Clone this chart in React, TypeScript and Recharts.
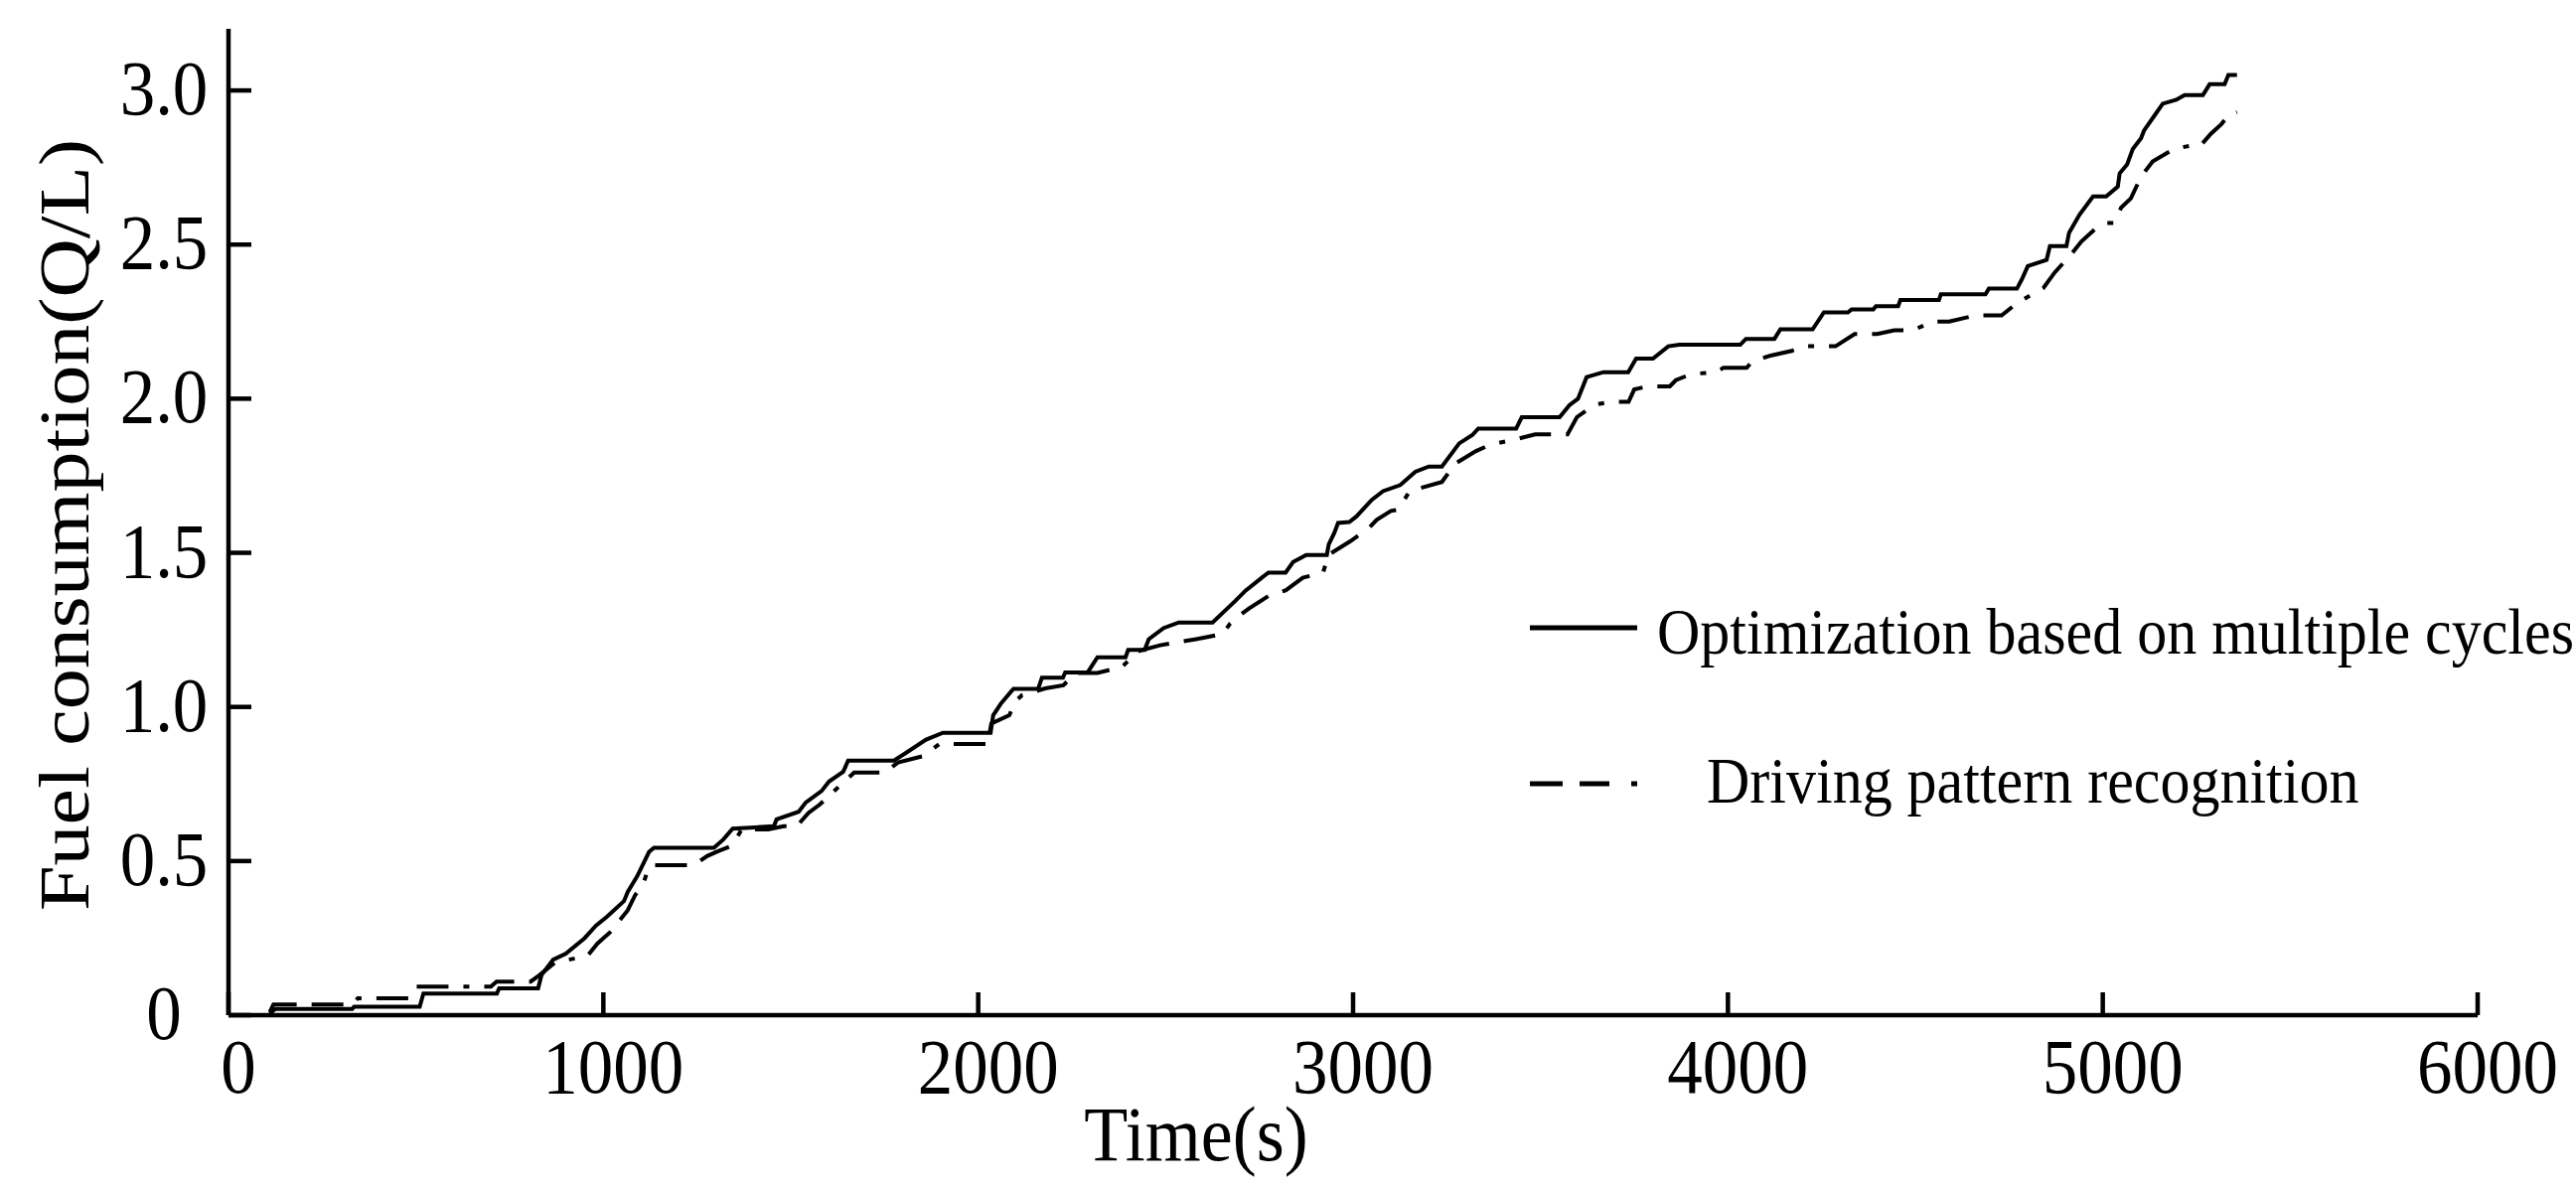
import React from "react";
import { LineChart, Line, XAxis, YAxis, Legend } from "recharts";

const FONT = "'Liberation Serif', 'Times New Roman', serif";
const STRETCH = 1.1;

// x tick values (s) and y tick values (Q/L)
const timeTicks = [0, 1000, 2000, 3000, 4000, 5000, 6000];
const fuelTicks = [0, 0.5, 1.0, 1.5, 2.0, 2.5, 3.0];

// Series 1: Optimization based on multiple cycles (solid)
const solidTime = [
  110, 125, 330, 335, 510, 520, 716, 722, 826, 835, 866, 900, 950, 980, 1010, 1055, 1065, 1090, 1110, 1122,
  1135, 1295, 1320, 1345, 1455, 1462, 1521, 1540, 1582, 1602, 1640, 1653, 1775, 1805, 1861, 1906, 2033, 2040,
  2060, 2094, 2160, 2170, 2226, 2232, 2292, 2318, 2393, 2400, 2444, 2455, 2495, 2535, 2625, 2686, 2713, 2774,
  2820, 2840, 2875, 2930, 2935, 2950, 2960, 2990, 3009, 3050, 3080, 3126, 3166, 3202, 3237, 3283, 3318, 3334,
  3435, 3450, 3551, 3577, 3600, 3623, 3668, 3734, 3755, 3800, 3841, 3871, 4033, 4048, 4124, 4140, 4226, 4256,
  4320, 4330, 4388, 4395, 4454, 4460, 4563, 4568, 4687, 4696, 4771, 4784, 4800, 4850, 4859, 4903, 4910, 4938,
  4974, 5009, 5040, 5045, 5065, 5080, 5102, 5110, 5133, 5160, 5196, 5218, 5267, 5285, 5325, 5335, 5358,
];
const solidFuel = [
  0.005, 0.02, 0.02, 0.027, 0.027, 0.07, 0.07, 0.087, 0.087, 0.13, 0.18, 0.2, 0.25, 0.29, 0.32, 0.37, 0.4, 0.45,
  0.5, 0.53, 0.543, 0.543, 0.57, 0.605, 0.613, 0.635, 0.66, 0.69, 0.727, 0.758, 0.79, 0.826, 0.826, 0.849,
  0.894, 0.916, 0.916, 0.973, 1.01, 1.059, 1.059, 1.095, 1.095, 1.112, 1.112, 1.161, 1.161, 1.185, 1.185, 1.22,
  1.256, 1.274, 1.274, 1.344, 1.377, 1.436, 1.436, 1.47, 1.493, 1.493, 1.527, 1.565, 1.597, 1.6, 1.618, 1.672,
  1.7, 1.72, 1.763, 1.78, 1.78, 1.855, 1.882, 1.903, 1.903, 1.94, 1.94, 1.979, 2.0, 2.07, 2.086, 2.086, 2.13,
  2.13, 2.17, 2.175, 2.175, 2.194, 2.194, 2.225, 2.225, 2.28, 2.28, 2.29, 2.29, 2.3, 2.3, 2.32, 2.32, 2.339,
  2.339, 2.357, 2.357, 2.387, 2.43, 2.45, 2.495, 2.495, 2.538, 2.597, 2.656, 2.656, 2.688, 2.731, 2.76, 2.81,
  2.845, 2.87, 2.91, 2.957, 2.97, 2.985, 2.985, 3.02, 3.02, 3.05, 3.05,
];

// Series 2: Driving pattern recognition (dashed)
const dashedTime = [
  110, 120, 330, 345, 480, 500, 700, 715, 806, 830, 870, 958, 984, 1019, 1065, 1085, 1105, 1121, 1135, 1242,
  1278, 1308, 1344, 1369, 1440, 1481, 1516, 1547, 1577, 1633, 1669, 1750, 1786, 1852, 1897, 2025, 2035, 2083,
  2100, 2117, 2179, 2227, 2260, 2318, 2384, 2424, 2485, 2581, 2651, 2672, 2690, 2723, 2774, 2820, 2866, 2920,
  2935, 2992, 3042, 3063, 3101, 3120, 3151, 3237, 3273, 3328, 3364, 3440, 3486, 3572, 3597, 3643, 3688, 3735,
  3750, 3785, 3845, 3861, 3902, 3968, 3988, 4050, 4064, 4114, 4170, 4205, 4287, 4338, 4398, 4444, 4493, 4546,
  4590, 4660, 4730, 4771, 4842, 4872, 4917, 4943, 4979, 5005, 5030, 5049, 5075, 5102, 5133, 5190, 5230, 5260,
  5289, 5316, 5335, 5358,
];
const dashedFuel = [
  0.01, 0.035, 0.035, 0.055, 0.055, 0.093, 0.093, 0.109, 0.109, 0.13, 0.17, 0.193, 0.232, 0.27, 0.34, 0.39,
  0.42, 0.48, 0.487, 0.487, 0.517, 0.533, 0.55, 0.603, 0.603, 0.613, 0.613, 0.656, 0.683, 0.747, 0.787, 0.787,
  0.82, 0.84, 0.88, 0.88, 0.946, 0.973, 1.02, 1.038, 1.06, 1.07, 1.11, 1.11, 1.13, 1.18, 1.2, 1.22, 1.236,
  1.27, 1.29, 1.32, 1.36, 1.378, 1.419, 1.436, 1.494, 1.537, 1.58, 1.607, 1.636, 1.64, 1.7, 1.73, 1.79, 1.83,
  1.85, 1.87, 1.884, 1.884, 1.94, 1.98, 1.99, 1.99, 2.03, 2.04, 2.04, 2.06, 2.08, 2.086, 2.1, 2.1, 2.12, 2.14,
  2.155, 2.17, 2.17, 2.21, 2.21, 2.222, 2.222, 2.25, 2.25, 2.27, 2.27, 2.31, 2.36, 2.41, 2.47, 2.51, 2.55,
  2.57, 2.57, 2.62, 2.65, 2.72, 2.77, 2.81, 2.82, 2.82, 2.86, 2.89, 2.92, 2.93,
];

const seriesNames = ["Optimization based on multiple cycles", "Driving pattern recognition"];

const solidData = solidTime.map((t, i) => ({ t, v: solidFuel[i] }));
const dashedData = dashedTime.map((t, i) => ({ t, v: dashedFuel[i] }));

const DASH = "32 15 32 15 6 15";

const XTick = (props: any) => {
  const { x, y, payload } = props;
  return (
    <text
      transform={`translate(${x + 10}, ${y}) scale(1, ${STRETCH})`}
      x={0}
      y={0}
      textAnchor="middle"
      fontFamily={FONT}
      fontSize={71}
      fill="#000"
    >
      {payload.value}
    </text>
  );
};

const YTick = (props: any) => {
  const { x, y, payload } = props;
  const v = payload.value;
  return (
    <text
      transform={`translate(${x}, ${y + 24}) scale(1, ${STRETCH})`}
      x={0}
      y={0}
      textAnchor="middle"
      fontFamily={FONT}
      fontSize={71}
      fill="#000"
    >
      {v === 0 ? "0" : Number(v).toFixed(1)}
    </text>
  );
};

const LegendBox = () => (
  <svg width={1073} height={260} style={{ display: "block", overflow: "visible" }}>
    <line x1={20} x2={128} y1={52} y2={52} stroke="#000" strokeWidth={5} />
    <text transform={`translate(148, 78) scale(1, 1.08)`} fontFamily={FONT} fontSize={60} fill="#000">
      {seriesNames[0]}
    </text>
    <line x1={20} x2={128} y1={209} y2={209} stroke="#000" strokeWidth={5} strokeDasharray="33 17 30 22 6 40" />
    <text transform={`translate(198, 228) scale(1, 1.08)`} fontFamily={FONT} fontSize={60} fill="#000">
      {seriesNames[1]}
    </text>
  </svg>
);

export default function App() {
  return (
    <div style={{ position: "absolute", left: 0, top: 0, width: 2593, height: 1197, background: "#fff" }}>
      <LineChart width={2593} height={1197} margin={{ top: 29, right: 99, bottom: 0, left: 0 }}>
        <XAxis
          dataKey="t"
          type="number"
          domain={[0, 6000]}
          ticks={timeTicks}
          height={175}
          axisLine={{ stroke: "#000", strokeWidth: 4.5 }}
          tickLine={{ stroke: "#000", strokeWidth: 4.5 }}
          tickSize={-23}
          tickMargin={101}
          tick={<XTick />}
          interval={0}
          allowDataOverflow
          label={{
            content: (p: any) => {
              const vb = p.viewBox;
              const cx = vb.x + vb.width / 2 - 158;
              const cy = vb.y + 146;
              return (
                <text
                  transform={`translate(${cx}, ${cy}) scale(1, ${STRETCH})`}
                  x={0}
                  y={0}
                  textAnchor="middle"
                  fontFamily={FONT}
                  fontSize={72}
                  fill="#000"
                >
                  Time(s)
                </text>
              );
            },
          }}
        />
        <YAxis
          dataKey="v"
          type="number"
          domain={[0, 3.2]}
          ticks={fuelTicks}
          width={230}
          axisLine={{ stroke: "#000", strokeWidth: 4.5 }}
          tickLine={{ stroke: "#000", strokeWidth: 4.5 }}
          tickSize={-23}
          tickMargin={88}
          tick={<YTick />}
          interval={0}
          allowDataOverflow
          label={{
            content: (p: any) => {
              const vb = p.viewBox;
              const cx = vb.x + 89;
              const cy = vb.y + vb.height / 2 + 3;
              return (
                <text
                  transform={`translate(${cx}, ${cy}) rotate(-90) scale(1.14, 1)`}
                  x={0}
                  y={0}
                  textAnchor="middle"
                  fontFamily={FONT}
                  fontSize={72}
                  fill="#000"
                >
                  Fuel consumption(Q/L)
                </text>
              );
            },
          }}
        />
        <Legend
          layout="horizontal"
          verticalAlign="middle"
          align="center"
          content={() => <LegendBox />}
          wrapperStyle={{ position: "absolute", left: 1520, top: 580, width: 1073, height: 260 }}
        />
        <Line
          data={solidData}
          dataKey="v"
          name={seriesNames[0]}
          type="linear"
          stroke="#000"
          strokeWidth={4}
          dot={false}
          activeDot={false}
          isAnimationActive={false}
        />
        <Line
          data={dashedData}
          dataKey="v"
          name={seriesNames[1]}
          type="linear"
          stroke="#000"
          strokeWidth={4}
          strokeDasharray={DASH}
          dot={false}
          activeDot={false}
          isAnimationActive={false}
        />
      </LineChart>
    </div>
  );
}
